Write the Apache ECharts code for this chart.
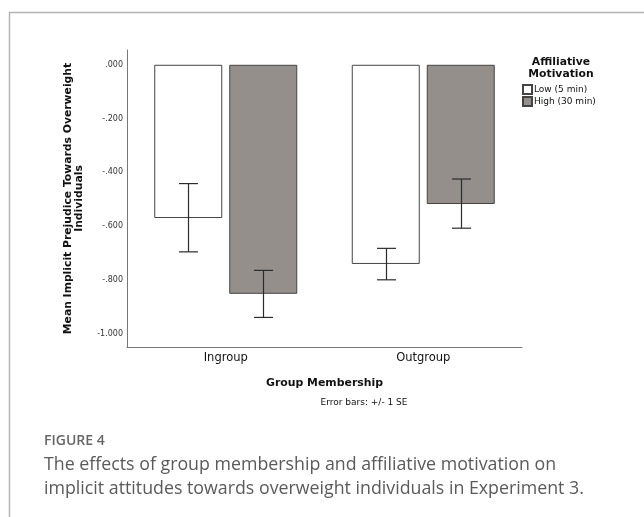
<!DOCTYPE html>
<html>
<head>
<meta charset="utf-8">
<script src="https://cdn.jsdelivr.net/npm/echarts@6/dist/echarts.min.js"></script>
<style>
html,body{margin:0;padding:0;background:#fff;}
#chart{width:644px;height:517px;}
</style>
</head>
<body>
<div id="chart"></div>
<script>
const categories = ['Ingroup', 'Outgroup'];
const seriesNames = ['Low (5 min)', 'High (30 min)'];
const lowMeans = [-0.570, -0.741];
const highMeans = [-0.852, -0.518];
const lowErrUpper = [-0.442, -0.683];
const lowErrLower = [-0.696, -0.800];
const highErrUpper = [-0.765, -0.425];
const highErrLower = [-0.940, -0.608];
const yTickValues = [0, -0.2, -0.4, -0.6, -0.8, -1.0];

const BAR_W = 68, BAR_GAP = 7;
const chart = echarts.init(document.getElementById('chart'));

function fmt(v) {
  const s = Math.abs(v).toFixed(3).replace(/^0/, '');
  return (v < -1e-9 ? '-' : '') + s;
}

const errData = [];
for (let i = 0; i < categories.length; i++) {
  errData.push([i, lowErrUpper[i], lowErrLower[i], 0]);
  errData.push([i, highErrUpper[i], highErrLower[i], 1]);
}

function renderErr(params, api) {
  const ci = api.value(0);
  const s = api.value(3);
  const off = (s === 0 ? -1 : 1) * (BAR_W + BAR_GAP) / 2;
  const top = api.coord([ci, api.value(1)]);
  const bot = api.coord([ci, api.value(2)]);
  const x = Math.round(top[0] + off) + 0.5;
  const hw = 9.5;
  const st = { stroke: '#2b2b2b', lineWidth: 1.2 };
  return {
    type: 'group',
    children: [
      { type: 'line', shape: { x1: x, y1: top[1], x2: x, y2: bot[1] }, style: st },
      { type: 'line', shape: { x1: x - hw, y1: top[1], x2: x + hw, y2: top[1] }, style: st },
      { type: 'line', shape: { x1: x - hw, y1: bot[1], x2: x + hw, y2: bot[1] }, style: st }
    ]
  };
}

const font = 'DejaVu Sans';
const option = {
  animation: false,
  backgroundColor: '#fff',
  title: {
    text: 'Affiliative\nMotivation',
    left: 556, top: 51, textAlign: 'center',
    textStyle: { fontFamily: font, fontSize: 10.8, fontWeight: 'bold', color: '#111', lineHeight: 12 }
  },
  legend: {
    orient: 'vertical', left: 517, top: 79,
    itemWidth: 9, itemHeight: 9, itemGap: 1,
    icon: 'rect',
    data: seriesNames,
    textStyle: { fontFamily: font, fontSize: 9, color: '#111', padding: [0, 0, 0, -3] }
  },
  grid: { left: 127, top: 50, width: 395, height: 297 },
  xAxis: {
    type: 'category', data: categories,
    axisLine: { onZero: false, lineStyle: { color: '#777', width: 1 } },
    axisTick: { show: false },
    axisLabel: { fontFamily: font, fontSize: 11.5, color: '#111', margin: 5 },
    name: 'Group Membership', nameLocation: 'middle', nameGap: 31,
    nameTextStyle: { fontFamily: font, fontSize: 10.9, fontWeight: 'bold', color: '#111' }
  },
  yAxis: {
    type: 'value', min: -1.05, max: 0.055,
    axisLine: { show: true, lineStyle: { color: '#777', width: 1 } },
    axisTick: { show: false },
    splitLine: { show: false },
    axisLabel: {
      customValues: yTickValues, formatter: fmt,
      fontFamily: font, fontSize: 8, color: '#333', margin: 4
    },
    name: 'Mean Implicit Prejudice Towards Overweight\nIndividuals',
    nameLocation: 'middle', nameGap: 42,
    nameTextStyle: { fontFamily: font, fontSize: 10.8, fontWeight: 'bold', color: '#111', lineHeight: 11 }
  },
  series: [
    {
      name: seriesNames[0], type: 'bar', data: lowMeans,
      barWidth: BAR_W, barGap: (BAR_GAP / BAR_W * 100) + '%',
      itemStyle: { color: '#ffffff', borderColor: '#444', borderWidth: 1 }
    },
    {
      name: seriesNames[1], type: 'bar', data: highMeans,
      barWidth: BAR_W,
      itemStyle: { color: '#958f8c', borderColor: '#444', borderWidth: 1 }
    },
    {
      type: 'custom', renderItem: renderErr, data: errData,
      encode: { x: 0, y: [1, 2] }, z: 10, silent: true
    }
  ],
  graphic: [
    { type: 'line', shape: { x1: 9, y1: 12.5, x2: 644, y2: 12.5 }, style: { stroke: '#b3b3b3', lineWidth: 1.5 } },
    { type: 'line', shape: { x1: 9.5, y1: 12, x2: 9.5, y2: 517 }, style: { stroke: '#b3b3b3', lineWidth: 1.5 } },
    { type: 'text', x: 364, y: 398, style: { text: 'Error bars: +/- 1 SE', font: '9px "DejaVu Sans"', fill: '#111', textAlign: 'center' } },
    { type: 'text', x: 44, y: 434, style: { text: 'FIGURE 4', font: '600 14px "Open Sans"', fill: '#666' } },
    { type: 'text', x: 44, y: 456, style: { text: 'The effects of group membership and affiliative motivation on', font: '17.8px "Open Sans"', fill: '#5a5a5a' } },
    { type: 'text', x: 44, y: 480, style: { text: 'implicit attitudes towards overweight individuals in Experiment 3.', font: '17.8px "Open Sans"', fill: '#5a5a5a' } }
  ]
};
chart.setOption(option);
</script>
</body>
</html>
